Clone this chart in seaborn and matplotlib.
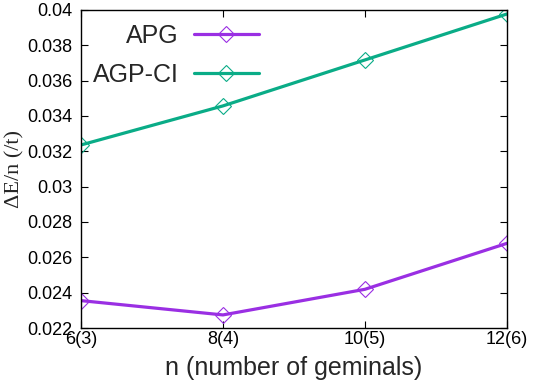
import matplotlib
matplotlib.use("Agg")
import matplotlib.pyplot as plt
import seaborn as sns
import pandas as pd
from matplotlib.lines import Line2D

categories = ["6(3)", "8(4)", "10(5)", "12(6)"]
apg = [0.02355, 0.02274, 0.02419, 0.02679]
agp_ci = [0.03236, 0.03457, 0.03717, 0.03977]
series_names = ["APG", "AGP-CI"]
colors = ["#9a2fe3", "#0aac87"]

sns.set_theme(style="ticks")
plt.rcParams['font.family'] = ['Liberation Sans', 'DejaVu Sans']

rows = []
for name, vals in zip(series_names, [apg, agp_ci]):
    for i, (c, v) in enumerate(zip(categories, vals)):
        rows.append({"pos": i, "cat": c, "val": v, "series": name})
df = pd.DataFrame(rows)

fig = plt.figure(figsize=(5.45, 3.83), dpi=100)
ax = fig.add_axes([0.1486, 0.1436, 0.930 - 0.1486, 0.974 - 0.1436])

sns.lineplot(data=df, x="pos", y="val", hue="series", hue_order=series_names,
             palette=colors, marker="D", markersize=8, markerfacecolor="none",
             markeredgewidth=0.8, linewidth=2.3, ax=ax, legend=False)
for line, c in zip(ax.lines, colors):
    line.set_markeredgecolor(c)

ax.set_xlim(0, 3)
ax.set_ylim(0.022, 0.04)
ax.set_xticks(range(len(categories)))
ax.set_xticklabels(categories)
yt = [0.022, 0.024, 0.026, 0.028, 0.03, 0.032, 0.034, 0.036, 0.038, 0.04]
ax.set_yticks(yt)
ax.set_yticklabels(["0.022", "0.024", "0.026", "0.028", "0.03", "0.032", "0.034", "0.036", "0.038", "0.04"])
ax.tick_params(direction="in", top=True, right=True, length=5, width=0.8, labelsize=13, colors="black")
ax.tick_params(axis="x", pad=2)
ax.tick_params(axis="y", pad=6)
for s in ax.spines.values():
    s.set_linewidth(1.0)
    s.set_color("black")

ax.set_xlabel("n (number of geminals)", fontsize=18, labelpad=6)
ax.set_ylabel("ΔE/n (/t)", fontsize=16, family=["Liberation Serif", "DejaVu Serif"], labelpad=2)

handles = [Line2D([], [], color=c, linewidth=2.3, marker="D", markersize=8,
                  markerfacecolor="none", markeredgecolor=c, markeredgewidth=0.8) for c in colors]
ax.legend(handles, series_names, loc="upper left", frameon=False, markerfirst=False,
          fontsize=18, handlelength=2.6, handletextpad=0.6, bbox_to_anchor=(-0.013, 1.012),
          labelspacing=0.6, borderaxespad=0.3)

fig.savefig("out.png", dpi=100)
